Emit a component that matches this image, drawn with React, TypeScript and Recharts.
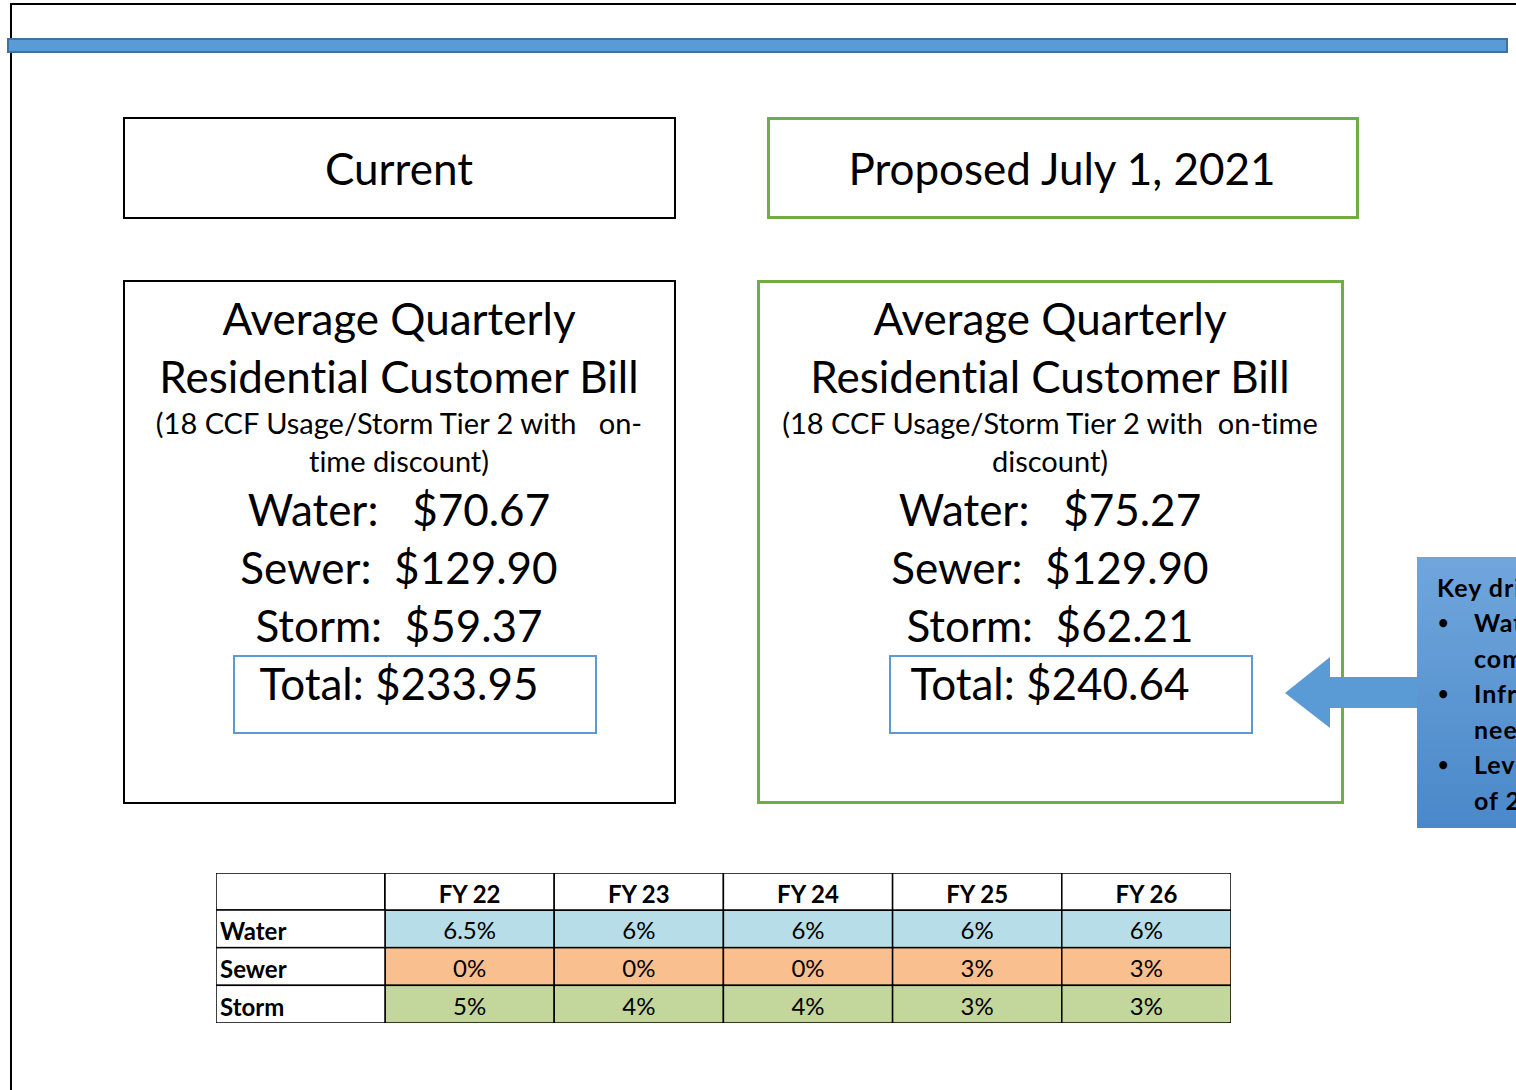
import React from "react";
import { ScatterChart, Scatter, XAxis, YAxis } from "recharts";

const fiscalYears = ["FY 22", "FY 23", "FY 24", "FY 25", "FY 26"];
const rateRows = ["Water", "Sewer", "Storm"];
const waterRates = ["6.5%", "6%", "6%", "6%", "6%"];
const sewerRates = ["0%", "0%", "0%", "3%", "3%"];
const stormRates = ["5%", "4%", "4%", "3%", "3%"];

const billLabels = ["Water:   ", "Sewer:  ", "Storm:  "];
const currentBill = ["$70.67", "$129.90", "$59.37"];
const proposedBill = ["$75.27", "$129.90", "$62.21"];
const currentTotal = "$233.95";
const proposedTotal = "$240.64";

const FONT = "Lato, 'Open Sans', sans-serif";

// table geometry
const TABLE_W = 1015;
const LABEL_W = 169;
const HEADER_H = 37;
const TABLE_H = 150;
const CELL_W = (TABLE_W - LABEL_W) / fiscalYears.length;
const CELL_H = (TABLE_H - HEADER_H) / rateRows.length;

const toCells = (row: string, rates: string[]) =>
  fiscalYears.map((fy, i) => ({ fy, row, rate: rates[i] }));

const RateCell = (props: any) => {
  const { cx, cy, payload, fill } = props;
  return (
    <g>
      <rect x={cx - CELL_W / 2} y={cy - CELL_H / 2} width={CELL_W} height={CELL_H} fill={fill} stroke="#000" strokeWidth={1.5} />
      <text x={cx} y={cy + 1} textAnchor="middle" dominantBaseline="central" fontSize={24} fontFamily={FONT} fill="#000">
        {payload.rate}
      </text>
    </g>
  );
};

const HeaderTick = (props: any) => {
  const { x, payload } = props;
  return (
    <g>
      <rect x={x - CELL_W / 2} y={0} width={CELL_W} height={HEADER_H} fill="#fff" stroke="#000" strokeWidth={1.5} />
      <text x={x} y={HEADER_H / 2 + 2} textAnchor="middle" dominantBaseline="central" fontSize={24} fontWeight={700} fontFamily={FONT} fill="#000">
        {payload.value}
      </text>
    </g>
  );
};

const RowTick = (props: any) => {
  const { y, payload } = props;
  return (
    <g>
      <rect x={0} y={y - CELL_H / 2} width={LABEL_W} height={CELL_H} fill="#fff" stroke="#000" strokeWidth={1.5} />
      <text x={4} y={y + 2} textAnchor="start" dominantBaseline="central" fontSize={24} fontWeight={700} fontFamily={FONT} fill="#000">
        {payload.value}
      </text>
    </g>
  );
};

const line = (text: string, cx: number, cy: number, size: number, extra: React.CSSProperties = {}) => (
  <div
    key={text + cy}
    style={{
      position: "absolute",
      left: cx - 400,
      width: 800,
      top: cy - size - 2,
      height: size * 2,
      lineHeight: `${size * 2}px`,
      textAlign: "center",
      fontSize: size,
      whiteSpace: "pre",
      ...extra,
    }}
  >
    {text}
  </div>
);

const box = (left: number, top: number, width: number, height: number, color: string, bw: number) => (
  <div
    style={{
      position: "absolute",
      left,
      top,
      width: width - bw * 2,
      height: height - bw * 2,
      border: `${bw}px solid ${color}`,
    }}
  />
);

function BillPanel({ cx, sub1, sub2, values, total }: { cx: number; sub1: string; sub2: string; values: string[]; total: string }) {
  return (
    <>
      {line("Average Quarterly", cx, 320, 44)}
      {line("Residential Customer Bill", cx, 378, 44)}
      {line(sub1, cx, 425, 29)}
      {line(sub2, cx, 463, 29)}
      {values.map((v, i) => line(billLabels[i] + v, cx, 511 + i * 58, 44))}
      {line("Total: " + total, cx, 685, 44)}
    </>
  );
}

export default function App() {
  return (
    <div
      style={{
        position: "fixed",
        left: 0,
        top: 0,
        width: 1516,
        height: 1090,
        overflow: "hidden",
        background: "#fff",
        fontFamily: FONT,
        fontVariantLigatures: "none",
        color: "#000",
      }}
    >
      {/* slide frame */}
      <div style={{ position: "absolute", left: 10, top: 3, width: 1520, height: 2, background: "#000" }} />
      <div style={{ position: "absolute", left: 10, top: 3, width: 2, height: 1100, background: "#000" }} />
      <div style={{ position: "absolute", left: 7, top: 38, width: 1497, height: 11, background: "#5b9bd5", border: "2px solid #41719c" }} />

      {/* headings */}
      {box(123, 117, 553, 102, "#000", 2)}
      {box(767, 117, 592, 102, "#70ad47", 3)}
      {line("Current", 399, 170, 44)}
      {line("Proposed July 1, 2021", 1062, 170, 44)}

      {/* bill boxes */}
      {box(123, 280, 553, 524, "#000", 2)}
      {box(757, 280, 587, 524, "#70ad47", 3)}
      {box(233, 655, 364, 79, "#5b9bd5", 2)}
      {box(889, 655, 364, 79, "#5b9bd5", 2)}
      <BillPanel cx={399} sub1={"(18 CCF Usage/Storm Tier 2 with   on-"} sub2="time discount)" values={currentBill} total={currentTotal} />
      <BillPanel cx={1050} sub1={"(18 CCF Usage/Storm Tier 2 with  on-time"} sub2="discount)" values={proposedBill} total={proposedTotal} />

      {/* arrow */}
      <svg style={{ position: "absolute", left: 1280, top: 650, overflow: "visible" }} width={150} height={90}>
        <polygon points="5,43 50,7 50,27 145,27 145,58 50,58 50,78" fill="#5b9bd5" />
      </svg>

      {/* key drivers */}
      <div
        style={{
          position: "absolute",
          left: 1417,
          top: 557,
          width: 300,
          height: 271,
          background: "linear-gradient(#70a6dc, #4a88c9)",
          fontWeight: 700,
          fontSize: 25,
          letterSpacing: 1,
          lineHeight: "35.5px",
          whiteSpace: "nowrap",
        }}
      >
        <div style={{ position: "absolute", left: 20, top: 13 }}>Key drivers:</div>
        {[
          ["Water supply", "commitments"],
          ["Infrastructure", "needs"],
          ["Level funding", "of 2021"],
        ].map((b, i) => (
          <div key={i} style={{ position: "absolute", left: 0, top: 48 + i * 71 }}>
            <span style={{ position: "absolute", left: 21, fontSize: 18 }}>•</span>
            <div style={{ position: "absolute", left: 57 }}>{b[0]}</div>
            <div style={{ position: "absolute", left: 57, top: 36 }}>{b[1]}</div>
          </div>
        ))}
      </div>

      {/* rate table */}
      <div style={{ position: "absolute", left: 216, top: 873, width: TABLE_W, height: TABLE_H }}>
        <svg style={{ position: "absolute", left: 0, top: 0 }} width={LABEL_W} height={HEADER_H}>
          <rect x={0} y={0} width={LABEL_W} height={HEADER_H} fill="#fff" stroke="#000" strokeWidth={1.5} />
        </svg>
        <ScatterChart width={TABLE_W} height={TABLE_H} margin={{ top: 0, right: 0, bottom: 0, left: 0 }} style={{ overflow: "visible" }}>
          <XAxis dataKey="fy" type="category" allowDuplicatedCategory={false} orientation="top" height={HEADER_H} scale="band" interval={0} axisLine={false} tickLine={false} tick={<HeaderTick />} />
          <YAxis dataKey="row" type="category" allowDuplicatedCategory={false} width={LABEL_W} scale="band" interval={0} axisLine={false} tickLine={false} tick={<RowTick />} reversed />
          <Scatter data={toCells("Water", waterRates)} fill="#b7dde8" shape={<RateCell />} isAnimationActive={false} />
          <Scatter data={toCells("Sewer", sewerRates)} fill="#fabf8f" shape={<RateCell />} isAnimationActive={false} />
          <Scatter data={toCells("Storm", stormRates)} fill="#c3d69b" shape={<RateCell />} isAnimationActive={false} />
        </ScatterChart>
      </div>
    </div>
  );
}
